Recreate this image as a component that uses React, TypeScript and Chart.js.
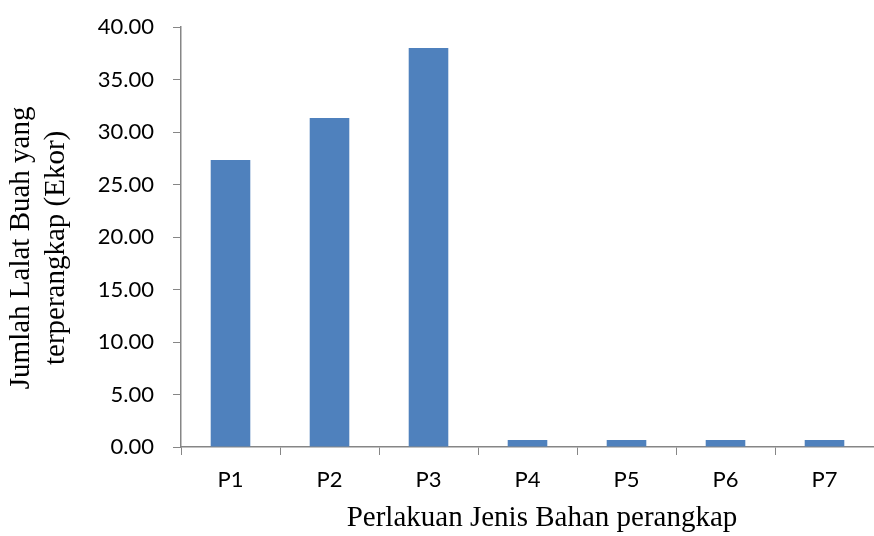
import React, { useEffect, useRef } from "react";
import { Chart, registerables } from "chart.js";

Chart.register(...registerables);

const categories = ["P1", "P2", "P3", "P4", "P5", "P6", "P7"];
const values = [27.33, 31.33, 38.0, 0.67, 0.67, 0.67, 0.67];
const yTicks = [0, 5, 10, 15, 20, 25, 30, 35, 40];
const xTitle = "    Perlakuan Jenis Bahan perangkap";
const yTitle = ["Jumlah Lalat Buah yang   ", "terperangkap (Ekor)   "];

export default function App() {
  const ref = useRef<HTMLCanvasElement | null>(null);
  useEffect(() => {
    document.body.style.margin = "0";
    if (!ref.current) return;
    const axisColor = "#868686";
    const chart = new Chart(ref.current, {
      type: "bar",
      data: {
        labels: categories,
        datasets: [
          {
            data: values,
            backgroundColor: "#4F81BD",
            borderWidth: 0,
            barPercentage: 0.4,
            categoryPercentage: 1.0,
          },
        ],
      },
      options: {
        responsive: false,
        animation: false,
        layout: { padding: { top: 27, right: 0, left: 0, bottom: 0 } },
        plugins: { legend: { display: false }, tooltip: { enabled: false } },
        scales: {
          x: {
            grid: {
              display: true,
              drawOnChartArea: false,
              drawTicks: true,
              tickLength: 8,
              color: axisColor,
              offset: true,
            },
            border: { display: true, color: axisColor, width: 1.5 },
            ticks: {
              color: "#000",
              font: { family: "Lato", size: 22 },
              padding: 12,
            },
            title: {
              display: true,
              text: xTitle,
              color: "#000",
              font: { family: "Liberation Serif", size: 29, lineHeight: 1.2 },
              padding: { top: 0, bottom: 0 },
            },
            afterFit: (s: any) => {
              s.height = 89;
              s.paddingLeft = 0;
              s.paddingRight = 0;
            },
          },
          y: {
            min: 0,
            max: 40,
            afterBuildTicks: (s: any) => {
              s.ticks = yTicks.map((v) => ({ value: v }));
            },
            grid: {
              display: true,
              drawOnChartArea: false,
              drawTicks: true,
              tickLength: 8,
              color: axisColor,
            },
            border: { display: true, color: axisColor, width: 1.5 },
            ticks: {
              color: "#000",
              font: { family: "Lato", size: 22 },
              padding: 19,
              callback: (v: any) => Number(v).toFixed(2),
            },
            title: {
              display: true,
              text: yTitle,
              color: "#000",
              font: { family: "Liberation Serif", size: 29, lineHeight: 1.2 },
              padding: { top: 4, bottom: 0 },
            },
            afterFit: (s: any) => {
              s.width = 181;
              s.paddingTop = 0;
              s.paddingBottom = 0;
            },
          },
        },
      },
    });
    return () => chart.destroy();
  }, []);
  return (
    <div style={{ width: 874, height: 536 }}>
      <canvas ref={ref} width={874} height={536} />
    </div>
  );
}
